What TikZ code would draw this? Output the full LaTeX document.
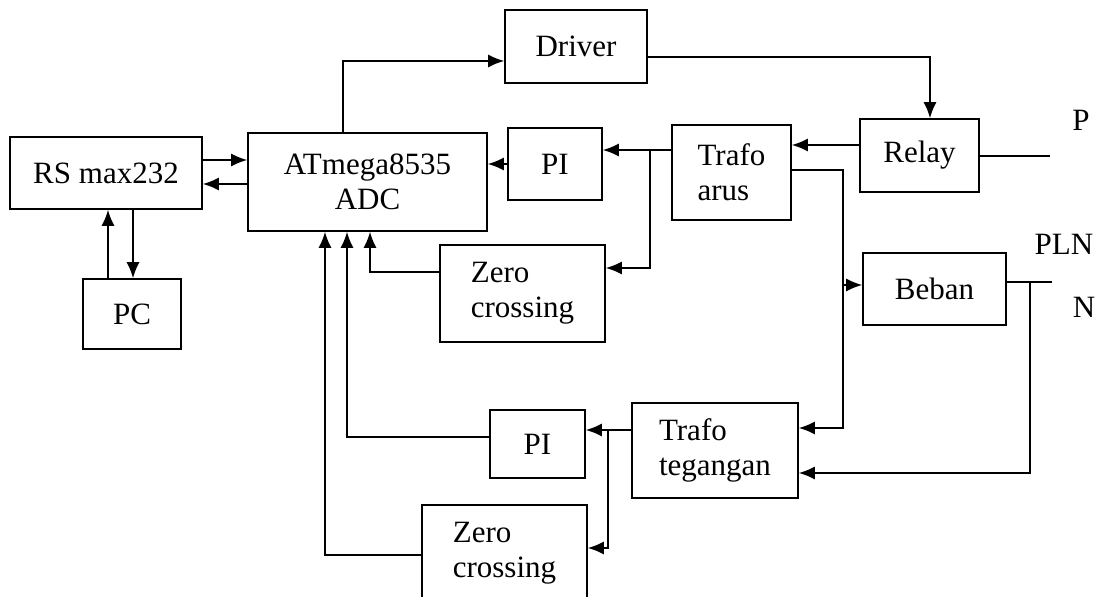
\documentclass[tikz,border=0pt]{standalone}
\usepackage{fontspec}
\setmainfont{Liberation Serif}
\usetikzlibrary{arrows.meta}

\begin{document}
\begin{tikzpicture}[x=0.5pt,y=-0.5pt,line width=0.8pt,
  >={Latex[length=8pt,width=6.5pt]},
  blk/.style={draw,inner sep=0pt,align=center,font=\fontsize{15.5}{17.5}\selectfont},
  blkl/.style={blk,align=left},
  lbl/.style={inner sep=0pt,font=\fontsize{15.5}{17.5}\selectfont}]
\useasboundingbox (0,0) rectangle (1099,597);
\node[blk,minimum width=96pt,minimum height=36pt] (rs) at (106,173) {RS max232};
\node[blk,minimum width=49pt,minimum height=35pt] (pc) at (132,314) {PC};
\node[blk,minimum width=119.5pt,minimum height=49pt] (adc) at (367.5,182) {ATmega8535\\ADC};
\node[blk,minimum width=71pt,minimum height=36.5pt] (driver) at (576,46.5) {Driver};
\node[blk,minimum width=47pt,minimum height=36pt] (pi1) at (555,164) {PI};
\node[blkl,minimum width=59.5pt,minimum height=47.5pt] (arus) at (731.5,172.5) {Trafo\\arus};
\node[blk,minimum width=59.5pt,minimum height=36.5pt] (relay) at (919.5,155.5) {Relay};
\node[blkl,minimum width=82.5pt,minimum height=48.5pt] (zc1) at (522.5,293.5) {Zero\\crossing};
\node[blk,minimum width=71.5pt,minimum height=36pt] (beban) at (934.5,289) {Beban};
\node[blk,minimum width=47.5pt,minimum height=34pt] (pi2) at (537.5,444) {PI};
\node[blkl,minimum width=83pt,minimum height=47.5pt] (tegangan) at (715,450.5) {Trafo\\tegangan};
\node[blkl,minimum width=82.5pt,minimum height=48pt] (zc2) at (504.5,553) {Zero\\crossing};
\node[lbl] (p) at (1081,120) {P};
\node[lbl] (pln) at (1064,244) {PLN};
\node[lbl] (n) at (1084,307) {N};
\coordinate (j1) at (650,150);
\coordinate (j2) at (843,285);
\coordinate (j3) at (608,430);
\coordinate (j4) at (1030,282);
\coordinate (pend) at (1050,156);
\coordinate (nend) at (1052,282);
\draw[->] (rs.east |- 0,160) -- (adc.west |- 0,160);
\draw[->] (adc.west |- 0,184) -- (rs.east |- 0,184);
\draw[->] (pc.north -| 108,0) -- (rs.south -| 108,0);
\draw[->] (rs.south -| 133,0) -- (pc.north -| 133,0);
\draw[->] (adc.north -| 343,0) |- (driver.west |- 0,61);
\draw[->] (driver.east |- 0,57) -| (relay.north -| 930,0);
\draw[->] (relay.west |- 0,145) -- (arus.east |- 0,145);
\draw[->] (arus.west |- j1) -- (pi1.east |- j1);
\draw[->] (j1) |- (zc1.east |- 0,268);
\draw[->] (pi1.west) -- (adc.east |- pi1.west);
\draw[->] (zc1.west |- 0,272) -| (adc.south -| 370,0);
\draw[->] (pi2.west |- 0,437) -| (adc.south -| 347,0);
\draw[->] (zc2.west |- 0,555) -| (adc.south -| 325,0);
\draw (arus.east |- 0,170) -| (j2);
\draw[->] (j2) -- (beban.west |- j2);
\draw[->] (j2) |- (tegangan.east |- 0,428);
\draw[->] (tegangan.west |- j3) -- (pi2.east |- j3);
\draw[->] (j3) |- (zc2.east |- 0,548);
\draw (relay.east |- pend) -- (pend);
\draw (beban.east |- nend) -- (nend);
\draw[->] (j4) |- (tegangan.east |- 0,473);
\end{tikzpicture}
\end{document}
